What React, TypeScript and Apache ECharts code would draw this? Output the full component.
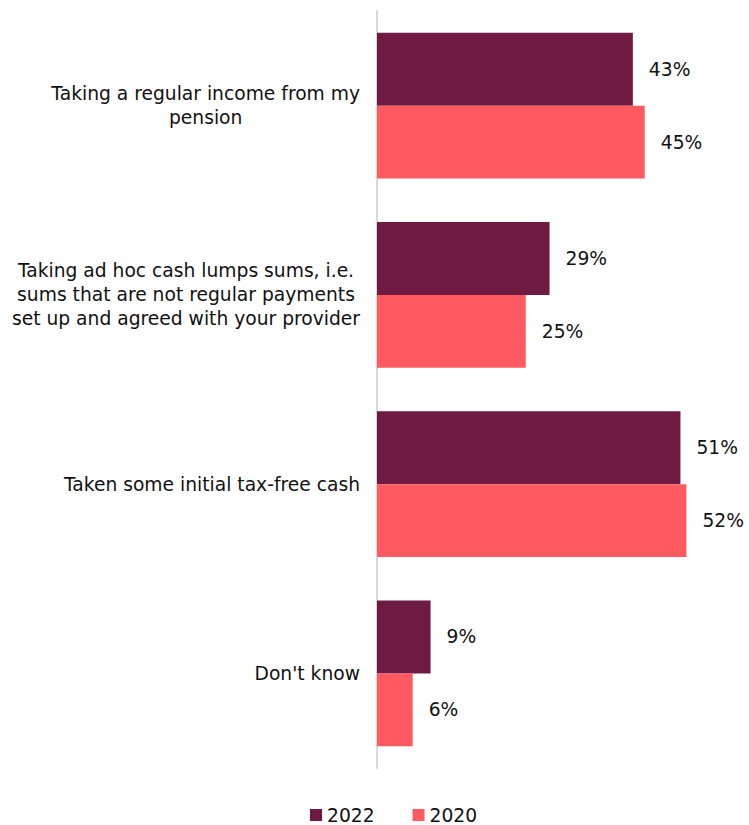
import React, { useEffect, useRef } from "react";
import * as echarts from "echarts";

const categories = [
  "Taking a regular income from my\npension",
  "Taking ad hoc cash lumps sums, i.e.\nsums that are not regular payments\nset up and agreed with your provider",
  "Taken some initial tax-free cash",
  "Don't know",
];
const values2022 = [43, 29, 51, 9];
const values2020 = [45, 25, 52, 6];
const seriesNames = ["2022", "2020"];

const FONT = "'DejaVu Sans', Verdana, sans-serif";
const FS = 18.7;

export default function App() {
  const ref = useRef<HTMLDivElement>(null);
  useEffect(() => {
    if (!ref.current) return;
    const chart = echarts.init(ref.current, undefined, { renderer: "svg" });
    const labelStyle = {
      show: true,
      position: "right" as const,
      distance: 16,
      formatter: "{c}%",
      color: "#111",
      fontSize: FS,
      fontFamily: FONT,
    };
    chart.setOption({
      animation: false,
      grid: { left: 377, right: 15, top: 11, bottom: 57 },
      legend: {
        top: 805,
        left: 310,
        padding: 0,
        itemWidth: 12,
        itemHeight: 12,
        itemGap: 38,
        icon: "rect",
        textStyle: { fontSize: FS, fontFamily: FONT, color: "#111", lineHeight: 20 },
        data: seriesNames,
      },
      xAxis: {
        type: "value",
        min: 0,
        max: 60,
        show: false,
      },
      yAxis: {
        type: "category",
        inverse: true,
        data: categories,
        axisLine: { show: true, lineStyle: { color: "#d9d9d9", width: 2 } },
        axisTick: { show: false },
        axisLabel: {
          margin: 17,
          fontSize: FS,
          fontFamily: FONT,
          color: "#111",
          formatter: (v: string) =>
            v
              .split("\n")
              .map((l) => `{c|${l}}`)
              .join("\n"),
          rich: {
            c: {
              align: "center",
              fontSize: FS,
              fontFamily: FONT,
              color: "#111",
              lineHeight: 24,
            },
          },
        },
      },
      series: [
        {
          name: seriesNames[0],
          type: "bar",
          data: values2022,
          barGap: "0%",
          barCategoryGap: "23%",
          itemStyle: { color: "#6E1A43" },
          label: labelStyle,
        },
        {
          name: seriesNames[1],
          type: "bar",
          data: values2020,
          barGap: "0%",
          barCategoryGap: "23%",
          itemStyle: { color: "#FF5A5F" },
          label: labelStyle,
        },
      ],
    });
    return () => chart.dispose();
  }, []);
  return (
    <div
      ref={ref}
      style={{ position: "absolute", left: 0, top: 0, width: 749, height: 825 }}
    />
  );
}
